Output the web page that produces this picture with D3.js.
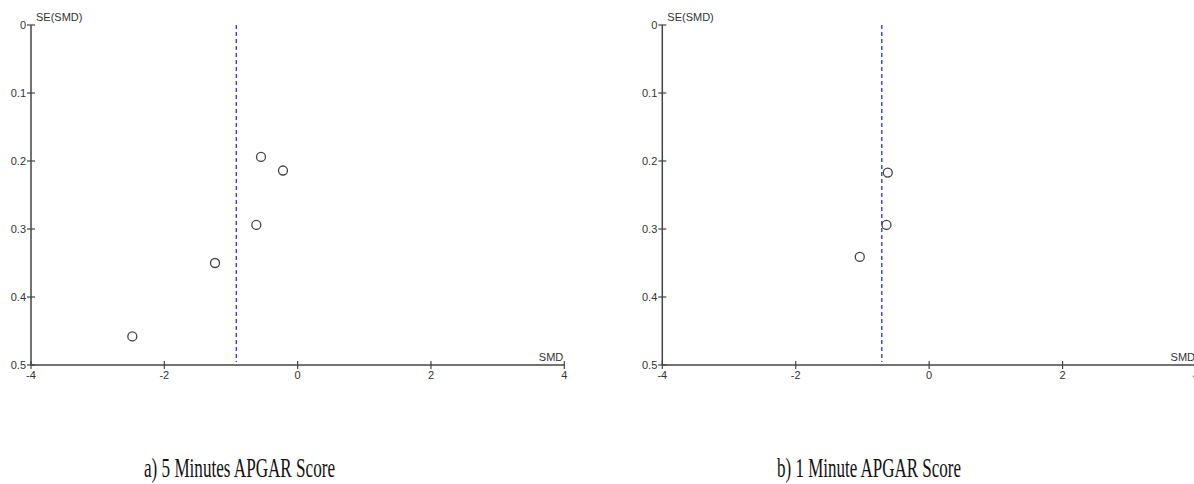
<!DOCTYPE html>
<html>
<head>
<meta charset="utf-8">
<script src="https://cdn.jsdelivr.net/npm/d3@7"></script>
<style>
  html, body { margin: 0; padding: 0; background: #fff; }
  svg { display: block; }
  .tick-label { font-family: "Liberation Sans", Arial, sans-serif; font-size: 11px; fill: #333; }
  .caption { font-family: "Liberation Serif", "Times New Roman", serif; font-size: 28px; fill: #111; }
</style>
</head>
<body>
<div id="container"></div>
<script>
// funnel plot data
const captions = ["a) 5 Minutes APGAR Score", "b) 1 Minute APGAR Score"];
const smd5min = [-0.55, -0.22, -0.62, -1.24, -2.48];
const se5min = [0.194, 0.214, 0.294, 0.350, 0.458];
const pooled5min = -0.92;
const smd1min = [-0.62, -0.64, -1.04];
const se1min = [0.217, 0.294, 0.341];
const pooled1min = -0.71;
const xTicks = [-4, -2, 0, 2, 4];
const yTicks = [0, 0.1, 0.2, 0.3, 0.4, 0.5];

const W = 1194, H = 484;
const svg = d3.select("div#container")
    .append("svg")
    .attr("width", W)
    .attr("height", H);

const panels = [
    {smd: smd5min, se: se5min, pooled: pooled5min, caption: captions[0], left: 31, right: 564.3, capX: 144, capW: 191},
    {smd: smd1min, se: se1min, pooled: pooled1min, caption: captions[1], left: 662.3, right: 1196, capX: 777, capW: 184}
];

const axisColor = "#444";

panels.forEach(p => {
    const x = d3.scaleLinear().domain([-4, 4]).range([p.left, p.right]);
    const y = d3.scaleLinear().domain([0, 0.5]).range([25, 365]);
    const g = svg.append("g");

    // axes lines
    g.append("line")
        .attr("x1", x(-4)).attr("x2", x(-4))
        .attr("y1", y(0)).attr("y2", y(0.5))
        .attr("stroke", axisColor).attr("stroke-width", 1.5);
    g.append("line")
        .attr("x1", x(-4)).attr("x2", x(4))
        .attr("y1", y(0.5)).attr("y2", y(0.5))
        .attr("stroke", axisColor).attr("stroke-width", 1.5);

    // y ticks
    g.selectAll(".yt")
        .data(yTicks)
        .join("line")
        .attr("x1", x(-4) - 4).attr("x2", x(-4) + 4)
        .attr("y1", d => y(d)).attr("y2", d => y(d))
        .attr("stroke", axisColor).attr("stroke-width", 1.2);
    g.selectAll(".yl")
        .data(yTicks)
        .join("text")
        .attr("class", "tick-label")
        .attr("x", x(-4) - 5)
        .attr("y", d => y(d))
        .attr("dy", "0.35em")
        .attr("text-anchor", "end")
        .text(d => d === 0 ? "0" : String(d));

    // x ticks
    g.selectAll(".xt")
        .data(xTicks)
        .join("line")
        .attr("x1", d => x(d)).attr("x2", d => x(d))
        .attr("y1", y(0.5) - 4).attr("y2", y(0.5) + 4)
        .attr("stroke", axisColor).attr("stroke-width", 1.2);
    g.selectAll(".xl")
        .data(xTicks)
        .join("text")
        .attr("class", "tick-label")
        .attr("x", d => x(d))
        .attr("y", y(0.5) + 14)
        .attr("text-anchor", "middle")
        .text(d => String(d));

    // axis titles
    g.append("text")
        .attr("class", "tick-label")
        .attr("x", x(-4) + 5)
        .attr("y", y(0) - 4)
        .text("SE(SMD)");
    g.append("text")
        .attr("class", "tick-label")
        .attr("x", x(4) - 1)
        .attr("y", y(0.5) - 4)
        .attr("text-anchor", "end")
        .text("SMD");

    // pooled estimate
    g.append("line")
        .attr("x1", x(p.pooled)).attr("x2", x(p.pooled))
        .attr("y1", y(0)).attr("y2", y(0.5) - 3)
        .attr("stroke", "#3a3ae6")
        .attr("stroke-width", 1.4)
        .attr("stroke-dasharray", "4,3");

    // studies
    g.selectAll("circle")
        .data(p.smd.map((d, i) => ({smd: d, se: p.se[i]})))
        .join("circle")
        .attr("cx", d => x(d.smd))
        .attr("cy", d => y(d.se))
        .attr("r", 4.5)
        .attr("fill", "none")
        .attr("stroke", "#444")
        .attr("stroke-width", 1.3);

    // caption
    g.append("text")
        .attr("class", "caption")
        .attr("x", p.capX)
        .attr("y", 477)
        .attr("textLength", p.capW)
        .attr("lengthAdjust", "spacingAndGlyphs")
        .text(p.caption);
});
</script>
</body>
</html>
